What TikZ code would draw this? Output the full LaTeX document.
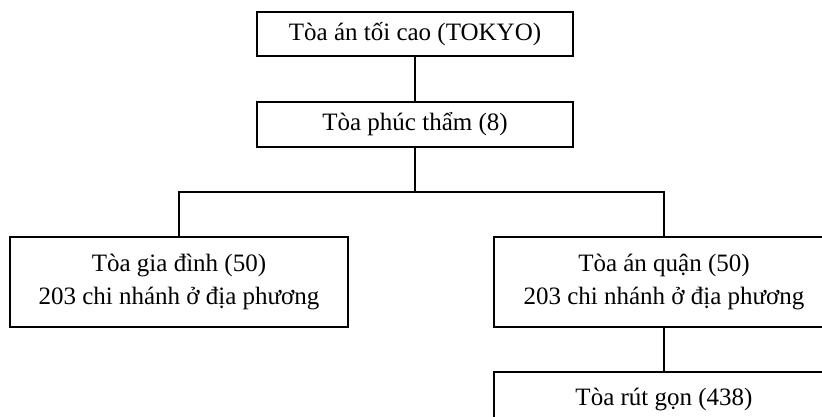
\documentclass[tikz,border=0pt]{standalone}
\usepackage{fontspec}
\setmainfont{Liberation Serif}
\begin{document}
\begin{tikzpicture}[x=1pt,y=-1pt,
  box/.style={draw, line width=1.4pt, inner sep=0pt, align=center,
    font=\fontsize{25}{32.5}\selectfont},
  conn/.style={line width=1.4pt}]
\useasboundingbox (0,0) rectangle (822,417);
\node[box, minimum width=316pt, minimum height=44pt] (b1) at (415,34) {Tòa án tối cao (TOKYO)};
\node[box, minimum width=316pt, minimum height=45pt] (b2) at (415,124.5) {Tòa phúc thẩm (8)};
\node[box, minimum width=338pt, minimum height=90pt] (b3) at (179,282) {Tòa gia đình (50)\\203 chi nhánh ở địa phương};
\node[box, minimum width=340pt, minimum height=90pt] (b4) at (664,282) {Tòa án quận (50)\\203 chi nhánh ở địa phương};
\node[box, minimum width=340pt, minimum height=55pt] (b5) at (664,399.5) {Tòa rút gọn (438)};
\coordinate (h) at (0,192);
\draw[conn] (b1) -- (b2);
\draw[conn] (b2.south) -- (b2.south |- h);
\draw[conn] (b3.north) |- (h -| b4.north) -- (b4.north);
\draw[conn] (b4) -- (b5);
\end{tikzpicture}
\end{document}
